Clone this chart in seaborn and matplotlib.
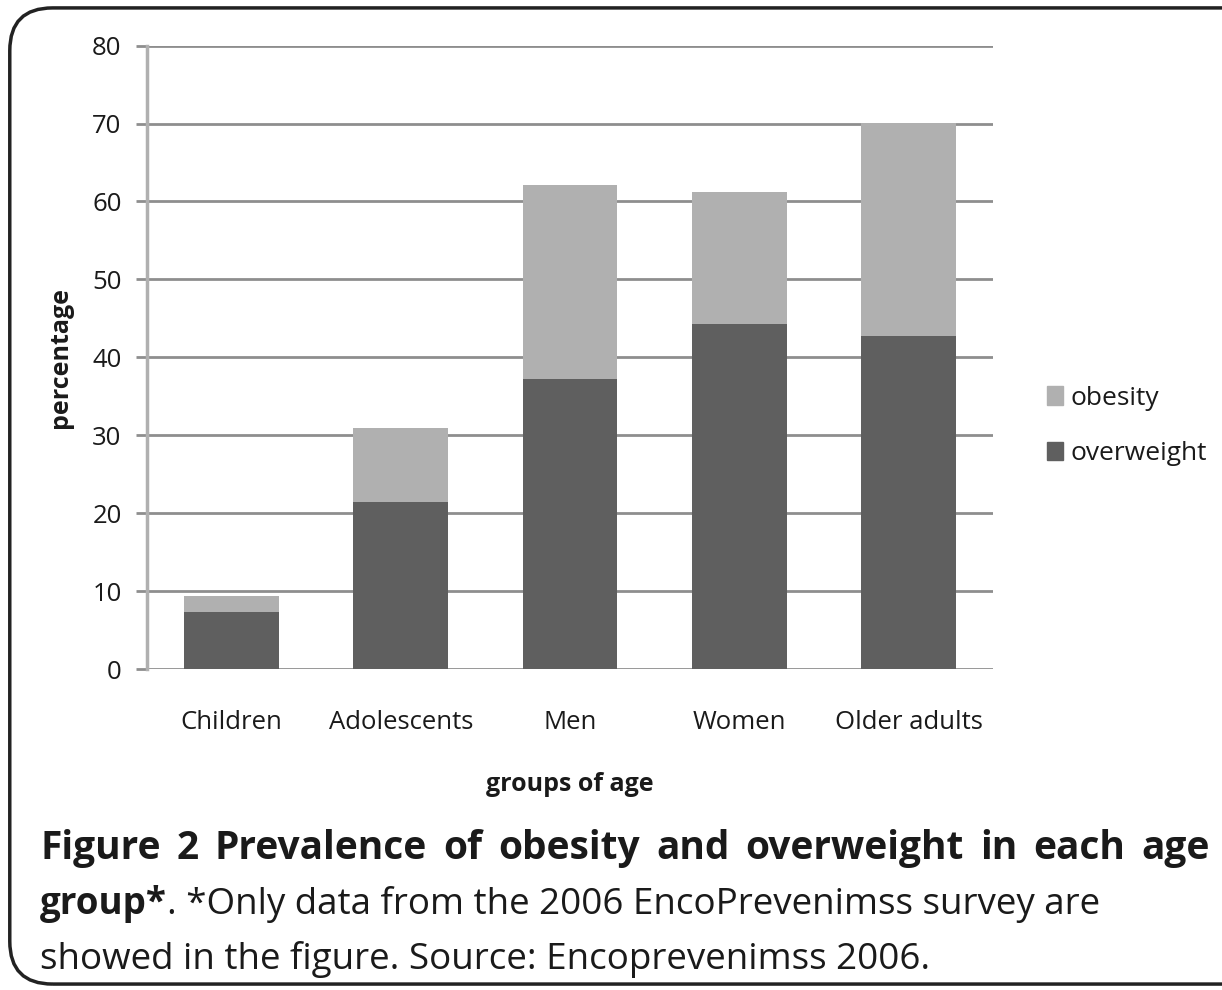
import numpy as np
import pandas as pd
import seaborn as sns
import matplotlib.pyplot as plt
from matplotlib.patches import FancyBboxPatch, Patch

groups = ["Children", "Adolescents", "Men", "Women", "Older adults"]
overweight = [7.4, 21.4, 37.2, 44.3, 42.8]
obesity = [2.0, 9.5, 24.9, 16.9, 27.3]

DARK = "#5f5f5f"
LIGHT = "#b0b0b0"
GRID = "#8e8e8e"
TXT = "#1a1a1a"

df = pd.DataFrame({"group": groups, "overweight": overweight, "obesity": obesity})
df["total"] = df["overweight"] + df["obesity"]

sns.set_style("white")
plt.rcParams["font.family"] = ["Open Sans", "DejaVu Sans"]

fig = plt.figure(figsize=(12.22, 9.9), dpi=100)
ax = fig.add_axes([0.120, 0.324, 0.693, 0.630])

# stacked: draw totals first, then overweight on top
sns.barplot(data=df, x="group", y="total", color=LIGHT, width=0.56, saturation=1,
            linewidth=0, ax=ax, zorder=3)
sns.barplot(data=df, x="group", y="overweight", color=DARK, width=0.56, saturation=1,
            linewidth=0, ax=ax, zorder=4)

ax.set_ylim(0, 80)
ax.set_xlim(-0.5, 4.5)
ax.set_yticks(range(0, 81, 10))
ax.yaxis.grid(True, color=GRID, linewidth=2)
ax.set_axisbelow(True)
for s in ["top", "right", "bottom"]:
    ax.spines[s].set_visible(False)
ax.spines["left"].set_color("#b0b0b0")
ax.spines["left"].set_linewidth(2.5)
ax.tick_params(axis="y", length=8, width=2, color=GRID, labelsize=18.5, labelcolor=TXT,
               pad=10, left=True)
ax.tick_params(axis="x", length=0, labelsize=18.5, labelcolor=TXT, pad=29)

ax.set_xlabel("groups of age", fontsize=18, fontweight="bold", color=TXT, labelpad=27)
ax.set_ylabel("percentage", fontsize=18, fontweight="bold", color=TXT, labelpad=14)

handles = [Patch(color=LIGHT, label="obesity"), Patch(color=DARK, label="overweight")]
ax.legend(handles=handles, loc="center left", bbox_to_anchor=(1.035, 0.39), frameon=False,
          fontsize=19, handlelength=0.6, handleheight=0.7, handletextpad=0.3,
          labelspacing=1.15, labelcolor=TXT)

# rounded frame around the whole figure
frame = FancyBboxPatch((0.008, 0.006), 1.05, 0.986, boxstyle="round,pad=0,rounding_size=0.035",
                       transform=fig.transFigure, fill=False, edgecolor="#222222", linewidth=2.5,
                       mutation_aspect=1222 / 990)
fig.patches.append(frame)

# caption
renderer = fig.canvas.get_renderer()
W = fig.bbox.width
left_px, right_px = 40, 1210
CAP = 26.5

words = "Figure 2 Prevalence of obesity and overweight in each age".split()
texts = [fig.text(0, 0.132, w, fontsize=28, fontweight="bold", color=TXT, va="baseline")
         for w in words]
widths = [t.get_window_extent(renderer).width for t in texts]
gap = (right_px - left_px - sum(widths)) / (len(words) - 1)
x = left_px
for t, w in zip(texts, widths):
    t.set_x(x / W)
    x += w + gap

b = fig.text(left_px / W, 0.077, "group*", fontsize=CAP, fontweight="bold", color=TXT,
             va="baseline")
bw = b.get_window_extent(renderer).width
fig.text((left_px + bw) / W, 0.077, ". *Only data from the 2006 EncoPrevenimss survey are",
         fontsize=CAP, color=TXT, va="baseline")
fig.text(left_px / W, 0.021, "showed in the figure. Source: Encoprevenimss 2006.",
         fontsize=CAP, color=TXT, va="baseline")

fig.savefig("out.png", dpi=100)
